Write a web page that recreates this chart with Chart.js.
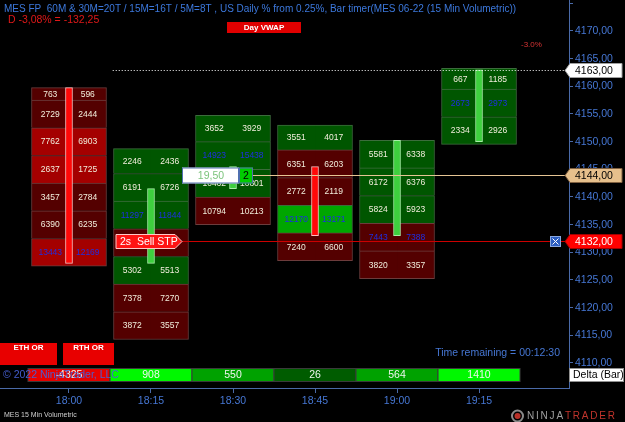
<!DOCTYPE html>
<html>
<head>
<meta charset="utf-8">
<title>MES 15 Min Volumetric</title>
<script src="https://cdn.jsdelivr.net/npm/chart.js@4.4.0/dist/chart.umd.min.js"></script>
<style>
  html, body { margin: 0; padding: 0; background: #000; }
  #wrap { width: 625px; height: 422px; }
</style>
</head>
<body>
<div id="wrap"><canvas id="chart" width="625" height="422"></canvas></div>
<script>
// 15 min volumetric bars, time in minutes after 18:00
const barTimes = [0, 15, 30, 45, 60, 75];
const barOpen  = [4159.75, 4128, 4141.5, 4145.5, 4133, 4150];
const barClose = [4128, 4141.5, 4145.5, 4133, 4150.25, 4163];
const barLow   = [4127.5, 4114.25, 4135, 4128.5, 4125.25, 4149.5];
const barHigh  = [4159.75, 4148.75, 4154.75, 4153, 4150.25, 4163.25];

// bid x ask volume per price row, top row first
const bidVolumes = [
    [763, 2729, 7762, 2637, 3457, 6390, 13443],
    [2246, 6191, 11297, 6130, 5302, 7378, 3872],
    [3652, 14923, 10462, 10794],
    [3551, 6351, 2772, 12170, 7240],
    [5581, 6172, 5824, 7443, 3820],
    [667, 2673, 2334]
];
const askVolumes = [
    [596, 2444, 6903, 1725, 2784, 6235, 12169],
    [2436, 6726, 11844, 5978, 5513, 7270, 3557],
    [3929, 15438, 10801, 10213],
    [4017, 6203, 2119, 13171, 6600],
    [6338, 6376, 5923, 7388, 3357],
    [1185, 2973, 2926]
];
const barDeltas = [-4325, 908, 550, 26, 564, 1410];
const rowSize = 5; // 20 ticks per row

// order / position levels
const lastPrice = 4163;
const entryPrice = 4144;
const stopPrice = 4132;
const positionQty = 2;
const openPnl = '19,50';

const fontFamily = '"Liberation Sans", Arial, sans-serif';
const axisBlue = '#4677d4';
Chart.defaults.font.family = fontFamily;

function priceText(v) {
    return v.toFixed(2).replace('.', ',');
}

function timeText(m) {
    const total = 18 * 60 + m;
    return String(Math.floor(total / 60)).padStart(2, '0') + ':' + String(total % 60).padStart(2, '0');
}

function cellColor(bid, ask) {
    const d = ask - bid;
    if (d >= 0) return d >= 800 ? '#00a600' : '#005600';
    return d <= -800 ? '#a40000' : '#540000';
}

function cellEdge(bid, ask) {
    return ask >= bid ? '#3c6c3c' : '#6c3c3c';
}

function deltaColor(d) {
    if (d < 0) return '#e60000';
    if (d >= 900) return '#00f800';
    if (d >= 300) return '#00a200';
    return '#005c00';
}

// build the cell tables from the arrays above
const bidCells = [], askCells = [], cellFill = [], cellBorder = [], bidEdges = [], askEdges = [], cellLabels = [];
barTimes.forEach((t, i) => {
    const n = bidVolumes[i].length;
    const totals = bidVolumes[i].map((b, r) => b + askVolumes[i][r]);
    const poc = totals.indexOf(Math.max(...totals));
    bidVolumes[i].forEach((bid, r) => {
        const ask = askVolumes[i][r];
        const k = n - 1 - r;
        const lo = barLow[i] + k * rowSize;
        const hi = k === n - 1 ? barHigh[i] : lo + rowSize;
        const bottom = k === 0 ? 1 : 0;
        bidCells.push({ x: t, y: [lo, hi] });
        askCells.push({ x: t, y: [lo, hi] });
        cellFill.push(cellColor(bid, ask));
        cellBorder.push(cellEdge(bid, ask));
        bidEdges.push({ top: 1, left: 1, right: 0, bottom: bottom });
        askEdges.push({ top: 1, left: 0, right: 1, bottom: bottom });
        cellLabels.push({ t: t, mid: (lo + hi) / 2, bid: bid, ask: ask, poc: r === poc });
    });
});

const bodies = barTimes.map((t, i) => ({ x: t, y: [barOpen[i], barClose[i]] }));
const bodyFill = barTimes.map((t, i) => barClose[i] >= barOpen[i] ? '#3ed03e' : '#ff0808');
const bodyEdge = barTimes.map((t, i) => barClose[i] >= barOpen[i] ? '#a6f0a6' : '#ffc0c0');

// numbers inside the cells
const cellTextPlugin = {
    id: 'cellText',
    afterDatasetsDraw(chart) {
        const { ctx, scales: { x, y } } = chart;
        ctx.save();
        ctx.font = '8.5px ' + fontFamily;
        ctx.textAlign = 'center';
        ctx.textBaseline = 'middle';
        cellLabels.forEach(c => {
            const cx = x.getPixelForValue(c.t);
            const cy = y.getPixelForValue(c.mid) + 0.5;
            ctx.fillStyle = c.poc ? '#1e2ee2' : '#f2eedc';
            ctx.fillText(c.bid, cx - 18.75, cy);
            ctx.fillText(c.ask, cx + 18.75, cy);
        });
        ctx.restore();
    }
};

function priceTag(ctx, area, yc, text, fill, stroke, color) {
    ctx.beginPath();
    ctx.moveTo(area.right - 4, yc);
    ctx.lineTo(area.right + 1, yc - 7);
    ctx.lineTo(622, yc - 7);
    ctx.lineTo(622, yc + 7);
    ctx.lineTo(area.right + 1, yc + 7);
    ctx.closePath();
    ctx.fillStyle = fill;
    ctx.fill();
    ctx.strokeStyle = stroke;
    ctx.lineWidth = 1;
    ctx.stroke();
    ctx.fillStyle = color;
    ctx.textAlign = 'left';
    ctx.textBaseline = 'middle';
    ctx.font = '10.5px ' + fontFamily;
    ctx.fillText(text, area.right + 6, yc + 0.5);
}

function boxLabel(ctx, x0, y0, w, h, fill, text, color, font) {
    ctx.fillStyle = fill;
    ctx.fillRect(x0, y0, w, h);
    ctx.fillStyle = color;
    ctx.font = font;
    ctx.textAlign = 'center';
    ctx.textBaseline = 'middle';
    ctx.fillText(text, x0 + w / 2, y0 + h / 2 + 0.5);
}

// trading overlays, delta row and texts
const overlayPlugin = {
    id: 'overlay',
    afterDraw(chart) {
        const { ctx, chartArea: area, scales: { x, y } } = chart;
        const py = v => Math.round(y.getPixelForValue(v)) + 0.5;
        const tagX = x.getPixelForValue(barTimes[2]) - 51;
        ctx.save();

        // last price
        const yLast = py(lastPrice);
        ctx.strokeStyle = '#ffffff';
        ctx.lineWidth = 1;
        ctx.setLineDash([1, 2]);
        ctx.beginPath();
        ctx.moveTo(x.getPixelForValue(barTimes[1] - 7), yLast);
        ctx.lineTo(area.right - 4, yLast);
        ctx.stroke();
        ctx.setLineDash([]);

        // entry line with position box
        const yEntry = py(entryPrice);
        ctx.strokeStyle = '#e6c594';
        ctx.beginPath();
        ctx.moveTo(tagX + 70, yEntry);
        ctx.lineTo(area.right - 4, yEntry);
        ctx.stroke();
        ctx.fillStyle = '#ffffff';
        ctx.fillRect(tagX, yEntry - 8, 57, 16);
        ctx.fillStyle = '#00cc00';
        ctx.fillRect(tagX + 57, yEntry - 8, 14, 16);
        ctx.strokeStyle = '#5070b0';
        ctx.strokeRect(tagX + 0.5, yEntry - 7.5, 56, 15);
        ctx.strokeRect(tagX + 57.5, yEntry - 7.5, 13, 15);
        ctx.font = '10.5px ' + fontFamily;
        ctx.textAlign = 'center';
        ctx.textBaseline = 'middle';
        ctx.fillStyle = '#7cc47c';
        ctx.fillText(openPnl, tagX + 29, yEntry + 0.5);
        ctx.fillStyle = '#000000';
        ctx.fillText(String(positionQty), tagX + 64, yEntry + 0.5);

        // stop order line and tag
        const yStop = py(stopPrice);
        ctx.strokeStyle = '#cc0000';
        ctx.beginPath();
        ctx.moveTo(tagX, yStop);
        ctx.lineTo(area.right - 19, yStop);
        ctx.moveTo(area.right - 8, yStop);
        ctx.lineTo(area.right - 4, yStop);
        ctx.stroke();
        ctx.beginPath();
        ctx.moveTo(tagX - 66, yStop - 7);
        ctx.lineTo(tagX - 7, yStop - 7);
        ctx.lineTo(tagX, yStop);
        ctx.lineTo(tagX - 7, yStop + 7);
        ctx.lineTo(tagX - 66, yStop + 7);
        ctx.closePath();
        ctx.fillStyle = '#ff1414';
        ctx.fill();
        ctx.strokeStyle = '#ffc8c8';
        ctx.stroke();
        ctx.fillStyle = '#ffffff';
        ctx.textAlign = 'left';
        ctx.fillText('2s  Sell STP', tagX - 62, yStop + 0.5);
        // cancel box
        const bx = area.right - 18.5;
        ctx.fillStyle = '#2a5cc0';
        ctx.fillRect(bx, yStop - 5, 10, 10);
        ctx.strokeStyle = '#8aa8e0';
        ctx.strokeRect(bx, yStop - 5, 10, 10);
        ctx.strokeStyle = '#ffffff';
        ctx.beginPath();
        ctx.moveTo(bx + 2, yStop - 3); ctx.lineTo(bx + 8, yStop + 3);
        ctx.moveTo(bx + 8, yStop - 3); ctx.lineTo(bx + 2, yStop + 3);
        ctx.stroke();

        // price axis tags
        priceTag(ctx, area, yLast, priceText(lastPrice), '#ffffff', '#a0a0a0', '#000000');
        priceTag(ctx, area, yEntry, priceText(entryPrice), '#e6c08c', '#806040', '#000000');
        priceTag(ctx, area, yStop, priceText(stopPrice), '#ff0000', '#a00000', '#ffffff');

        // delta row
        const dTop = 368.5, dH = 13;
        barTimes.forEach((t, i) => {
            const x0 = x.getPixelForValue(t - 7.5);
            const x1 = x.getPixelForValue(t + 7.5);
            ctx.fillStyle = deltaColor(barDeltas[i]);
            ctx.fillRect(x0, dTop, x1 - x0, dH);
            ctx.strokeStyle = '#3a3a3a';
            ctx.strokeRect(x0, dTop, x1 - x0, dH);
            ctx.fillStyle = '#eef6ee';
            ctx.font = '10.5px ' + fontFamily;
            ctx.textAlign = 'center';
            ctx.textBaseline = 'middle';
            ctx.fillText(String(barDeltas[i]), (x0 + x1) / 2, dTop + dH / 2 + 0.5);
        });
        ctx.fillStyle = 'rgba(70,96,214,0.95)';
        ctx.textAlign = 'left';
        ctx.fillText('\u00a9 2022 NinjaTrader, LLC', 3, 375.5);
        ctx.fillStyle = '#ffffff';
        ctx.fillRect(area.right + 0.5, 368, 54, 14);
        ctx.strokeStyle = '#909090';
        ctx.strokeRect(area.right + 0.5, 368.5, 54, 13);
        ctx.fillStyle = '#000000';
        ctx.fillText('Delta (Bar)', area.right + 4, 375.5);

        // header texts
        ctx.font = '10px ' + fontFamily;
        ctx.fillStyle = '#3c78dc';
        ctx.fillText('MES FP  60M & 30M=20T / 15M=16T / 5M=8T , US Daily % from 0.25%, Bar timer(MES 06-22 (15 Min Volumetric))', 4, 9.5);
        ctx.font = '10.5px ' + fontFamily;
        ctx.fillStyle = '#e01818';
        ctx.fillText(' D -3,08% = -132,25', 5, 20.5);
        boxLabel(ctx, 227, 22, 74, 11, '#e00000', 'Day VWAP', '#ffffff', 'bold 8px ' + fontFamily);
        ctx.font = '8px ' + fontFamily;
        ctx.fillStyle = '#d83434';
        ctx.textAlign = 'left';
        ctx.fillText('-3.0%', 521, 44.5);

        // opening range boxes
        ctx.fillStyle = '#e80000';
        ctx.fillRect(0, 343, 57, 22);
        ctx.fillRect(63, 343, 51, 22);
        ctx.fillStyle = '#ffffff';
        ctx.font = 'bold 8px ' + fontFamily;
        ctx.textAlign = 'center';
        ctx.fillText('ETH OR', 28.5, 348);
        ctx.fillText('RTH OR', 88.5, 348);

        ctx.font = '10.5px ' + fontFamily;
        ctx.fillStyle = axisBlue;
        ctx.textAlign = 'right';
        ctx.fillText('Time remaining = 00:12:30', 560, 353);

        // footer
        ctx.textAlign = 'left';
        ctx.font = '7px ' + fontFamily;
        ctx.fillStyle = '#d0d0d0';
        ctx.fillText('MES 15 Min Volumetric', 4, 415.5);
        ctx.beginPath();
        ctx.arc(517.5, 416, 5.5, 0, Math.PI * 2);
        ctx.strokeStyle = '#8a8a8a';
        ctx.lineWidth = 2;
        ctx.stroke();
        ctx.beginPath();
        ctx.arc(517.5, 416, 3, 0, Math.PI * 2);
        ctx.fillStyle = '#b83028';
        ctx.fill();
        ctx.lineWidth = 1;
        ctx.font = '10px ' + fontFamily;
        ctx.letterSpacing = '1.8px';
        ctx.fillStyle = '#a0a0a0';
        ctx.fillText('NINJA', 527, 416.5);
        const w = ctx.measureText('NINJA').width;
        ctx.fillStyle = '#c0342c';
        ctx.fillText('TRADER', 527 + w, 416.5);
        ctx.letterSpacing = '0px';
        ctx.restore();
    }
};

new Chart(document.getElementById('chart'), {
    type: 'bar',
    data: {
        datasets: [
            {
                label: 'Body',
                data: bodies,
                grouped: false,
                barThickness: 7,
                backgroundColor: bodyFill,
                borderColor: bodyEdge,
                borderWidth: 1,
                borderSkipped: false,
                order: 0
            },
            {
                label: 'Bid',
                data: bidCells,
                barThickness: 37.5,
                backgroundColor: cellFill,
                borderColor: cellBorder,
                borderWidth: bidEdges,
                borderSkipped: false,
                order: 1
            },
            {
                label: 'Ask',
                data: askCells,
                barThickness: 37.5,
                backgroundColor: cellFill,
                borderColor: cellBorder,
                borderWidth: askEdges,
                borderSkipped: false,
                order: 1
            }
        ]
    },
    options: {
        responsive: false,
        animation: false,
        devicePixelRatio: 1,
        layout: { padding: 0 },
        plugins: {
            legend: { display: false },
            tooltip: { enabled: false }
        },
        scales: {
            x: {
                type: 'linear',
                min: -12.62,
                max: 91.46,
                offset: false,
                grid: { display: true, offset: false, drawOnChartArea: false, tickLength: 5, color: '#4a6aa8' },
                border: { display: true, color: '#4a6aa8' },
                ticks: {
                    stepSize: 15,
                    includeBounds: false,
                    autoSkip: false,
                    maxRotation: 0,
                    padding: 2,
                    color: axisBlue,
                    font: { size: 10.5 },
                    callback: v => (v >= 0 && v <= 75) ? timeText(v) : null
                },
                afterFit: s => { s.height = 34; s.paddingLeft = 0; s.paddingRight = 0; }
            },
            y: {
                type: 'linear',
                position: 'right',
                min: 4105.48,
                max: 4175.6,
                beginAtZero: false,
                grid: { display: true, drawOnChartArea: false, tickLength: 4, color: '#4a6aa8' },
                border: { display: true, color: '#4a6aa8' },
                ticks: {
                    stepSize: 5,
                    includeBounds: false,
                    autoSkip: false,
                    padding: 2,
                    color: axisBlue,
                    font: { size: 10.5 },
                    callback: v => v > 4170 ? '' : priceText(v)
                },
                afterFit: s => { s.width = 56; s.paddingTop = 0; s.paddingBottom = 0; }
            }
        }
    },
    plugins: [cellTextPlugin, overlayPlugin]
});
</script>
</body>
</html>
